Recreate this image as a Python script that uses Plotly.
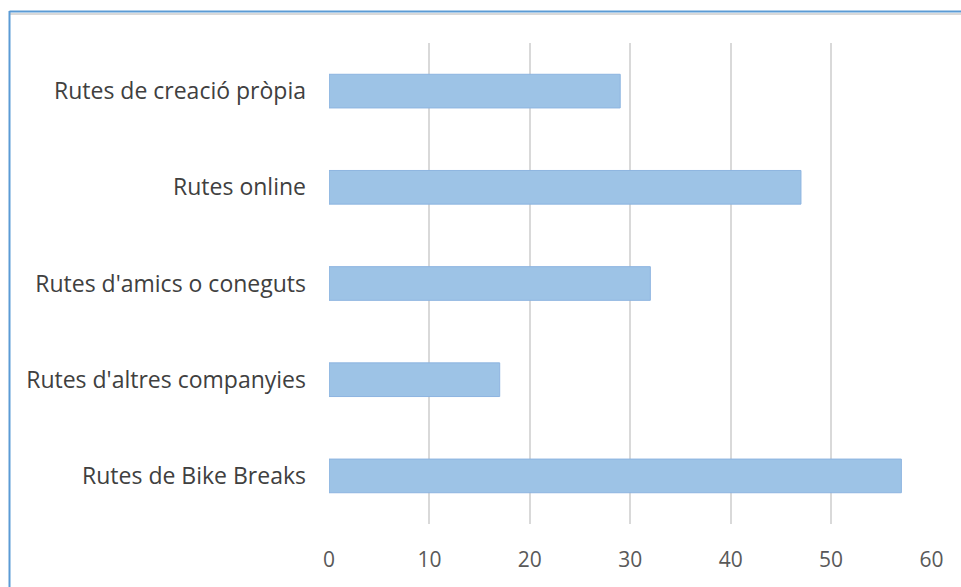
import plotly.graph_objects as go

categories = ["Rutes de creació pròpia", "Rutes online", "Rutes d'amics o coneguts",
              "Rutes d'altres companyies", "Rutes de Bike Breaks"]
values = [29, 47, 32, 17, 57]
x_ticks = [0, 10, 20, 30, 40, 50, 60]

W, H = 961, 587
ml, mr, mt, mb = 329, 29, 43, 63
pw = W - ml - mr
ph = H - mt - mb

def px_to_paper_x(px):
    return (px - ml) / pw

def px_to_paper_y(py):
    return (H - mb - py) / ph

fig = go.Figure(go.Bar(
    x=values, y=categories, orientation="h",
    marker=dict(color="#9DC3E6", line=dict(color="#8DB4E0", width=1)),
    width=0.35,
))

fig.update_layout(
    width=W, height=H,
    margin=dict(l=ml, r=mr, t=mt, b=mb),
    paper_bgcolor="white", plot_bgcolor="white",
    showlegend=False,
    font=dict(family="Open Sans, Noto Sans, sans-serif", color="#404040"),
    xaxis=dict(range=[0, 60.05], tickvals=x_ticks, showgrid=True, gridcolor="#D9D9D9",
               gridwidth=2, zeroline=False, showline=False, ticks="",
               tickfont=dict(size=21, color="#595959"), ticklabelstandoff=21),
    yaxis=dict(autorange="reversed", showgrid=False, zeroline=False, showline=False,
               ticks="", tickfont=dict(size=23, color="#404040"), ticklabelstandoff=22),
    shapes=[
        dict(type="line", xref="paper", yref="paper",
             x0=px_to_paper_x(9.5), x1=px_to_paper_x(961), y0=px_to_paper_y(14), y1=px_to_paper_y(14),
             line=dict(color="#D9D9D9", width=2)),
        dict(type="line", xref="paper", yref="paper",
             x0=px_to_paper_x(9.5), x1=px_to_paper_x(961), y0=px_to_paper_y(11.5), y1=px_to_paper_y(11.5),
             line=dict(color="#5B9BD5", width=2)),
        dict(type="line", xref="paper", yref="paper",
             x0=px_to_paper_x(9.5), x1=px_to_paper_x(9.5), y0=px_to_paper_y(11), y1=px_to_paper_y(587),
             line=dict(color="#5B9BD5", width=2)),
    ],
)

fig.write_html("out.html")
